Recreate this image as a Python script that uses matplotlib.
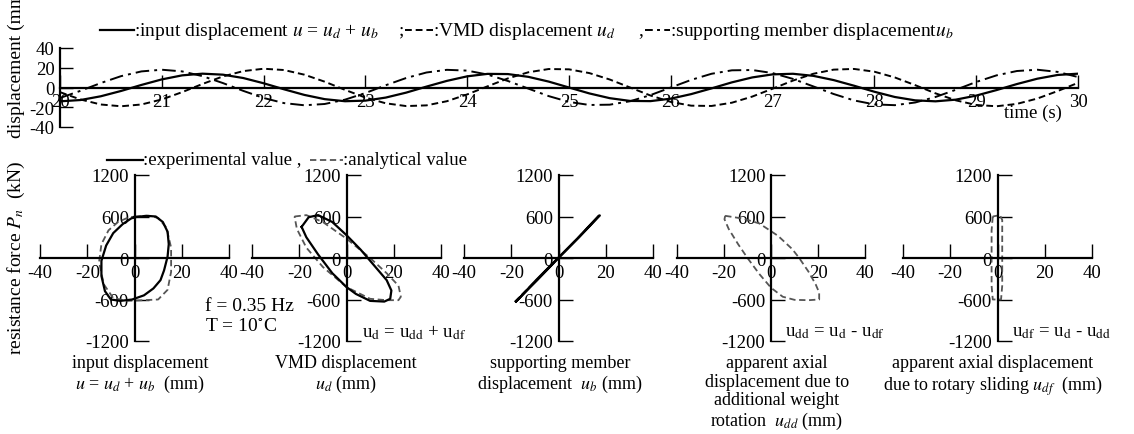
import numpy as np
import matplotlib.pyplot as plt

plt.rcParams['font.family'] = ['Liberation Serif', 'DejaVu Serif']
plt.rcParams['mathtext.fontset'] = 'stix'
plt.rcParams['axes.unicode_minus'] = False
plt.rcParams['font.size'] = 13

# ---- time histories (every 0.2 s) ----
time = np.round(np.arange(20, 30.01, 0.2), 1)
u_input = [-14.0, -12.7, -8.9, -3.5, 2.6, 8.2, 12.3, 14.0, 13.0, 9.6, 4.3, -1.8, -7.5,
           -11.8, -13.9, -13.3, -10.2, -5.2, 0.9, 6.7, 11.3, 13.8, 13.6, 10.8, 6.0, 0.0,
           -6.0, -10.8, -13.6, -13.8, -11.3, -6.7, -0.9, 5.2, 10.2, 13.3, 13.9, 11.8, 7.5,
           1.8, -4.3, -9.6, -13.0, -14.0, -12.3, -8.2, -2.6, 3.5, 8.9, 12.7, 14.0]
u_vmd = [-4.7, -12.1, -17.2, -19.0, -17.2, -12.1, -4.7, 3.6, 11.2, 16.6, 19.0, 17.7, 13.0,
         5.9, -2.4, -10.2, -16.0, -18.8, -18.1, -13.9, -7.0, 1.2, 9.2, 15.4, 18.7, 18.4,
         14.6, 8.1, 0.0, -8.1, -14.6, -18.4, -18.7, -15.4, -9.2, -1.2, 7.0, 13.9, 18.1,
         18.8, 16.0, 10.2, 2.4, -5.9, -13.0, -17.7, -19.0, -16.6, -11.2, -3.6, 4.7]
u_support = [-10.6, -3.4, 4.5, 11.5, 16.3, 18.0, 16.3, 11.5, 4.5, -3.4, -10.6, -15.8, -18.0,
             -16.7, -12.3, -5.6, 2.3, 9.6, 15.2, 17.9, 17.1, 13.1, 6.6, -1.1, -8.7, -14.6,
             -17.7, -17.4, -13.9, -7.7, 0.0, 7.7, 13.9, 17.4, 17.7, 14.6, 8.7, 1.1, -6.6,
             -13.1, -17.1, -17.9, -15.2, -9.6, -2.3, 5.6, 12.3, 16.7, 18.0, 15.8, 10.6]

# ---- hysteresis loops (displacement mm, force kN) ----
p1_exp_x = [0, 5, 9, 12, 14, 14.5, 14, 12.5, 11, 8, 4, -1, -6, -10, -12.5, -14, -14, -12, -9, -5, -1.5, 0]
p1_exp_y = [590, 610, 600, 520, 380, 200, 20, -180, -320, -440, -540, -600, -620, -600, -480, -260, -40, 180, 360, 490, 570, 590]
p1_ana_x = [0, 6, 10, 13.5, 15.5, 15.5, 14, 10, 4, -3, -9, -13, -15, -14, -11, -7, -3, 0]
p1_ana_y = [600, 610, 580, 440, 150, -200, -460, -600, -610, -620, -580, -380, -60, 200, 400, 520, 580, 600]

p2_exp_x = [-19, -16, -12, -6, 0, 6, 12, 17, 19, 18.5, 16, 10, 4, 0, -6, -12, -17, -19]
p2_exp_y = [450, 590, 620, 520, 330, 120, -120, -320, -470, -590, -630, -620, -520, -420, -220, 50, 300, 450]
p2_ana_x = [-22, -17, -10, 0, 10, 17, 22, 23, 22, 17, 10, 0, -10, -17, -21, -22]
p2_ana_y = [600, 620, 520, 280, 0, -220, -400, -560, -610, -610, -590, -420, -130, 150, 420, 600]

p3_exp_x = [-18, -9, 0, 9, 17.5, 17, 8.5, -0.5, -9.5, -18]
p3_exp_y = [-630, -320, 0, 310, 615, 610, 300, -10, -320, -630]
p3_ana_x = [-18.5, 0, 17.5]
p3_ana_y = [-630, 0, 620]

p4_ana_x = [-19.5, -12, -5, 3, 9, 12, 16, 19, 20.5, 20.5, 16, 10, 5, 0, -5, -10, -14, -18, -19.8, -19.5]
p4_ana_y = [610, 570, 500, 320, 130, 0, -200, -380, -500, -600, -610, -605, -560, -430, -230, 0, 200, 420, 560, 610]

p5_ana_x = [-2.0, -2.5, -2.5, -2.0, 1.5, 2.0, 2.0, 1.0, -2.0]
p5_ana_y = [600, 400, -400, -600, -600, -400, 550, 620, 600]

loops = [
    ([(p1_exp_x, p1_exp_y)], [(p1_ana_x, p1_ana_y)]),
    ([(p2_exp_x, p2_exp_y)], [(p2_ana_x, p2_ana_y)]),
    ([(p3_exp_x, p3_exp_y)], [(p3_ana_x, p3_ana_y)]),
    ([], [(p4_ana_x, p4_ana_y)]),
    ([], [(p5_ana_x, p5_ana_y)]),
]
panel_labels = [
    "input displacement\n$u$ = $u_d$ + $u_b$  (mm)",
    "VMD displacement\n$u_d$ (mm)",
    "supporting member\ndisplacement  $u_b$ (mm)",
    "apparent axial\ndisplacement due to\nadditional weight\nrotation  $u_{dd}$ (mm)",
    "apparent axial displacement\ndue to rotary sliding $u_{df}$  (mm)",
]
panel_notes = [None,
               r"u$_{\mathrm{d}}$ = u$_{\mathrm{dd}}$ + u$_{\mathrm{df}}$",
               None,
               r"u$_{\mathrm{dd}}$ = u$_{\mathrm{d}}$ - u$_{\mathrm{df}}$",
               r"u$_{\mathrm{df}}$ = u$_{\mathrm{d}}$ - u$_{\mathrm{dd}}$"]

W, H = 1134, 435
fig = plt.figure(figsize=(W / 100, H / 100), dpi=100)


def box(x0, x1, ytop, ybot):
    return [x0 / W, 1 - ybot / H, (x1 - x0) / W, (ybot - ytop) / H]


dash = (0, (3.5, 2))
dashdot = (0, (7, 2.6, 1.5, 2.6))
grey = '#555555'

# ---- top: time history ----
ax = fig.add_axes(box(60, 1078, 49, 128))
ax.patch.set_visible(False)
ax.plot(time, u_input, color='k', lw=1.6)
ax.plot(time, u_vmd, color='k', lw=1.4, ls=dash)
ax.plot(time, u_support, color='k', lw=1.4, ls=dashdot)
ax.set_xlim(20, 30)
ax.set_ylim(-40, 40)
ax.set_xticks(range(20, 31))
ax.set_yticks([-40, -20, 0, 20, 40])
ax.spines['bottom'].set_position(('data', 0))
ax.spines[['top', 'right']].set_visible(False)
for s in ('left', 'bottom'):
    ax.spines[s].set_linewidth(1.6)
ax.tick_params(direction='in', length=9.5, width=1, labelsize=13.5, pad=4)

# ---- bottom: hysteresis loops ----
xs = [(40, 229), (252, 441), (464, 653), (677, 865), (903, 1092)]
for i, (x0, x1) in enumerate(xs):
    a = fig.add_axes(box(x0, x1, 176, 342))
    a.patch.set_visible(False)
    for lx, ly in loops[i][1]:
        a.plot(lx, ly, color=grey, lw=1.3, ls=dash)
    for lx, ly in loops[i][0]:
        a.plot(lx, ly, color='k', lw=1.6)
    a.set_xlim(-40, 40)
    a.set_ylim(-1200, 1200)
    a.set_xticks([-40, -20, 0, 20, 40])
    a.set_yticks([-1200, -600, 0, 600, 1200])
    a.spines['bottom'].set_position(('data', 0))
    a.spines['left'].set_position(('data', 0))
    a.spines[['top', 'right']].set_visible(False)
    for s in ('left', 'bottom'):
        a.spines[s].set_linewidth(1.6)
    a.tick_params(direction='in', length=10, width=1, labelsize=13.5, pad=4)

# ---- overlay for legends and labels (pixel coordinates) ----
ov = fig.add_axes([0, 0, 1, 1])
ov.set_xlim(0, W)
ov.set_ylim(H, 0)
ov.axis('off')

ov.plot([100, 134], [31, 31], color='k', lw=1.6)
ov.text(134, 31, r":input displacement $u$ = $u_d$ + $u_b$", va='center', fontsize=14)
ov.text(398, 31, ";", va='center', fontsize=14)
ov.plot([405, 433], [31, 31], color='k', lw=1.4, ls=dash)
ov.text(433, 31, r":VMD displacement $u_d$", va='center', fontsize=14)
ov.text(638, 31, ",", va='center', fontsize=14)
ov.plot([645, 670], [31, 31], color='k', lw=1.4, ls=(0, (4, 2.2, 1.5, 2.2)))
ov.text(670, 31, r":supporting member displacement$u_b$", va='center', fontsize=14)

ov.plot([107, 143], [161, 161], color='k', lw=1.6)
ov.text(143, 161, ":experimental value ,", va='center', fontsize=13.5)
ov.plot([310, 343], [161, 161], color=grey, lw=1.3, ls=dash)
ov.text(343, 161, ":analytical value", va='center', fontsize=13.5)

ov.text(16, 62, "displacement (mm)", rotation=90, ha='center', va='center', fontsize=14)
ov.text(16, 258, r"resistance force $P_n$  (kN)", rotation=90, ha='center', va='center', fontsize=14)
ov.text(1033, 113, "time (s)", ha='center', va='center', fontsize=13.5)

ov.text(205, 307, "f = 0.35 Hz", va='center', fontsize=14)
ov.text(205, 327, r"T = 10$^{\circ}$C", va='center', fontsize=14)

centers = [140, 346, 560, 777, 993]
note_x = [None, 362, None, 785, 1012]
for i in range(5):
    ov.text(centers[i], 355, panel_labels[i], ha='center', va='top', fontsize=13, linespacing=1.12)
    if panel_notes[i]:
        ov.text(note_x[i], 333, panel_notes[i], va='center', fontsize=13.5)

fig.savefig('out.png', dpi=100)
